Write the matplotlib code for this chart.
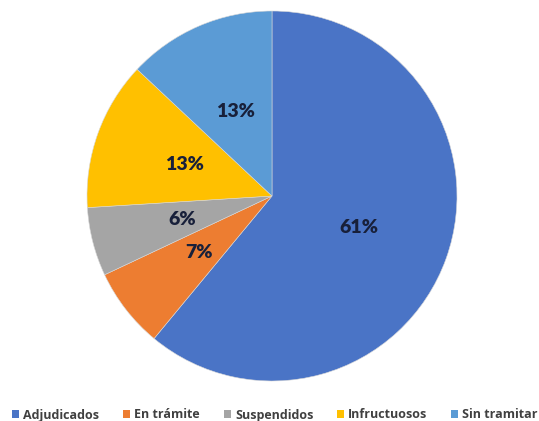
import matplotlib
matplotlib.use("Agg")
import matplotlib.pyplot as plt
from matplotlib.patches import Patch

# Shares of cases by status
categories = ["Adjudicados", "En trámite", "Suspendidos", "Infructuosos", "Sin tramitar"]
values = [61, 7, 6, 13, 13]
colors = ["#4A74C6", "#ED7D31", "#A5A5A5", "#FFC000", "#5B9BD5"]

fig = plt.figure(figsize=(5.39, 4.21), dpi=100)
W, H = 539, 421
cx, cy, r = 272, 196, 185
ax = fig.add_axes([(cx - r) / W, (H - cy - r) / H, 2 * r / W, 2 * r / H])

wedges, texts, autotexts = ax.pie(
    values,
    colors=colors,
    startangle=90,
    counterclock=False,
    radius=1,
    autopct=lambda p: f"{p:.0f}%",
    pctdistance=0.5,
    wedgeprops=dict(linewidth=0.4, edgecolor="#d8d8d8"),
    textprops=dict(fontsize=14, fontweight="heavy", color="#18203a", family="Lato"),
)
ax.set_xlim(-1, 1)
ax.set_ylim(-1, 1)
ax.set_aspect("equal")
ax.axis("off")

handles = [Patch(facecolor=c, edgecolor="none") for c in colors]
fig.legend(
    handles, categories,
    loc="center", bbox_to_anchor=(275 / W, 1 - 415 / H),
    ncol=5, frameon=False, borderaxespad=0, borderpad=0,
    handlelength=0.55, handleheight=0.55, handletextpad=0.35, columnspacing=1.9,
    prop=dict(family="Open Sans", weight="bold", size=9),
    labelcolor="#404040",
)

fig.savefig("out.png", dpi=100)
